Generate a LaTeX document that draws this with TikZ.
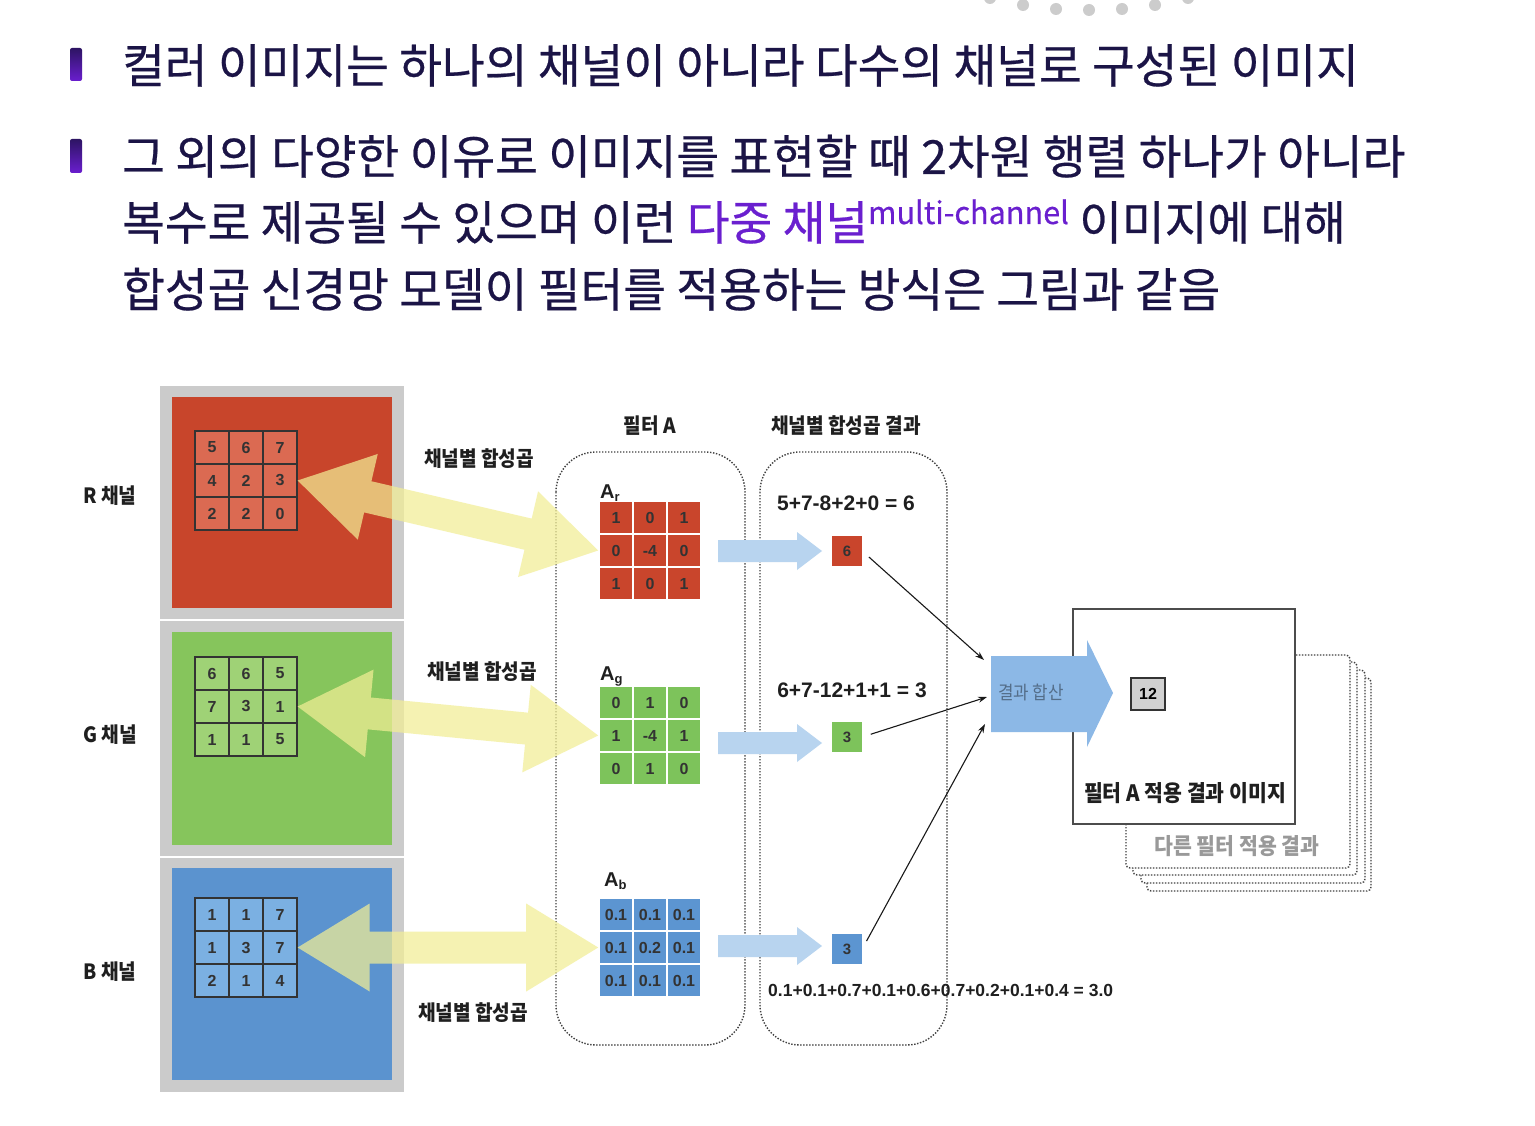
\documentclass[tikz,border=0pt]{standalone}
\usepackage{fontspec}
\setmainfont[FakeStretch=0.91]{Noto Sans CJK KR}
\newfontfamily\titlefont[FakeStretch=0.988, FakeBold=0.5]{Noto Sans CJK KR}
\newfontfamily\arial{Liberation Sans}
\usetikzlibrary{calc,arrows.meta}
\definecolor{navy}{HTML}{1B1446}
\definecolor{vio}{HTML}{6A1FCF}
\definecolor{panelgray}{HTML}{CBCBCB}
\definecolor{colrbg}{HTML}{C8452B}
\definecolor{colrcell}{HTML}{DB6A52}
\definecolor{colgbg}{HTML}{86C55C}
\definecolor{colgcell}{HTML}{9FD276}
\definecolor{colbbg}{HTML}{5B93CF}
\definecolor{colbcell}{HTML}{7BB0E2}
\definecolor{colfr}{HTML}{C9452C}
\definecolor{colfg}{HTML}{7DC35B}
\definecolor{colfb}{HTML}{5C95D1}
\definecolor{lblue}{HTML}{B8D4EF}
\definecolor{bigblue}{HTML}{8CB8E6}
\definecolor{yel}{HTML}{F2EE95}
\definecolor{bulltop}{HTML}{2D1463}
\definecolor{bullbot}{HTML}{6A1ECF}
\newcommand\cellgrid[5]{%
  \foreach \v [count=\i from 0] in {#5} {
    \pgfmathtruncatemacro\rr{\i/3}
    \pgfmathtruncatemacro\cc{mod(\i,3)}
    \node[#4] (#1\i) at ({#2+34*\cc+17},{#3+33*\rr+16.5}) {\v};
  }}
\newcommand\fatarrow[6]{%
  \coordinate (fa-hl) at ($(#1)!#3!(#2)$);
  \coordinate (fa-hr) at ($(#2)!#3!(#1)$);
  \fill[#6] (#1) -- ($(fa-hl)!#4!90:(#2)$) -- ($(fa-hl)!#5!90:(#2)$)
    -- ($(fa-hr)!#5!-90:(#1)$) -- ($(fa-hr)!#4!-90:(#1)$) -- (#2)
    -- ($(fa-hr)!#4!90:(#1)$) -- ($(fa-hr)!#5!90:(#1)$)
    -- ($(fa-hl)!#5!-90:(#2)$) -- ($(fa-hl)!#4!-90:(#2)$) -- cycle;}
\newcommand\rarrow[1]{%
  \fill[lblue] (#1) ++(0,-11) -- ++(79,0) -- ++(0,-8) -- ++(25,19) -- ++(-25,19) -- ++(0,-8) -- ++(-79,0) -- cycle;}
\begin{document}
\begin{tikzpicture}[x=1pt,y=-1pt,
  titletext/.style={anchor=base west, inner sep=0pt, text=navy, font=\titlefont\fontsize{47}{50}\selectfont},
  imgcell/.style={draw=black!80, line width=1.3pt, minimum width=34pt, minimum height=33pt, inner sep=0pt, font=\arial\bfseries\fontsize{16}{16}\selectfont, text=black!80},
  fcell/.style={draw=white, line width=1.6pt, minimum width=34pt, minimum height=33pt, inner sep=0pt, font=\arial\bfseries\fontsize{16}{16}\selectfont, text=black!80},
  klabel/.style={inner sep=0pt, text=black!88, font=\bfseries\fontsize{21}{21}\selectfont},
  eqlabel/.style={inner sep=0pt, text=black!88, font=\arial\bfseries\fontsize{21}{21}\selectfont},
  flabel/.style={anchor=base west, inner sep=0pt, text=black!88, font=\arial\bfseries\fontsize{20}{20}\selectfont},
  resbox/.style={minimum size=30pt, inner sep=0pt, font=\arial\bfseries\fontsize{15}{15}\selectfont, text=black!80},
  dotline/.style={draw=black!75, line width=1.4pt, dash pattern=on 1.4pt off 1.6pt},
  thinarr/.style={-{Stealth[length=9pt,width=6pt]}, line width=1.1pt, black!90, shorten <=9pt}]
\useasboundingbox (0,0) rectangle (1535,1126);
\fill[white] (0,0) rectangle (1535,1126);
% decorative dots
\begin{scope}
\clip (0,0) rectangle (1535,1126);
\foreach \px/\py in {990/-2,1023/5,1056/9,1089/10,1122/9,1155/5,1188/-2}
  \fill[black!20] (\px,\py) circle (6pt);
\end{scope}
% bullets
\shade[top color=bulltop, bottom color=bullbot, rounded corners=2pt] (70,48) rectangle (82,81);
\shade[top color=bulltop, bottom color=bullbot, rounded corners=2pt] (70,139) rectangle (82,173);
% title text
\node[titletext] (t1) at (122,83) {컬러 이미지는 하나의 채널이 아니라 다수의 채널로 구성된 이미지};
\node[titletext] (t2) at (122,174) {그 외의 다양한 이유로 이미지를 표현할 때 2차원 행렬 하나가 아니라};
\node[titletext] (t3) at (122,240) {복수로 제공될 수 있으며 이런 \textcolor{vio}{다중 채널\raisebox{16pt}{\fontsize{31}{31}\selectfont multi-channel}} 이미지에 대해};
\node[titletext] (t4) at (122,307) {합성곱 신경망 모델이 필터를 적용하는 방식은 그림과 같음};
% channel panel
\fill[panelgray] (160,386) rectangle (404,1092);
\fill[colrbg] (172,397) rectangle (392,608);
\fill[colgbg] (172,632) rectangle (392,845);
\fill[colbbg] (172,868) rectangle (392,1080);
\draw[white, line width=1.2pt] (160,620) -- (404,620);
\draw[white, line width=1.2pt] (160,857) -- (404,857);
\cellgrid{gr}{195}{431}{imgcell, fill=colrcell}{5,6,7,4,2,3,2,2,0}
\cellgrid{gg}{195}{657}{imgcell, fill=colgcell}{6,6,5,7,3,1,1,1,5}
\cellgrid{gb}{195}{898}{imgcell, fill=colbcell}{1,1,7,1,3,7,2,1,4}
\node[klabel] (lr) at (110,496) {R 채널};
\node[klabel] (lg) at (110,735) {G 채널};
\node[klabel] (lb) at (110,972) {B 채널};
% containers
\draw[dotline, rounded corners=40pt] (556,452) rectangle (745,1045);
\draw[dotline, rounded corners=40pt] (760,452) rectangle (947,1045);
\node[klabel] (hf) at (650,426) {필터 A};
\node[klabel] (hr) at (846,426) {채널별 합성곱 결과};
% filters
\cellgrid{fr}{599}{501}{fcell, fill=colfr}{1,0,1,0,-4,0,1,0,1}
\cellgrid{fg}{599}{686}{fcell, fill=colfg}{0,1,0,1,-4,1,0,1,0}
\cellgrid{fb}{599}{898}{fcell, fill=colfb}{0.1,0.1,0.1,0.1,0.2,0.1,0.1,0.1,0.1}
\node[flabel] (ar) at (600,498) {A\raisebox{-3pt}{\fontsize{13}{13}\selectfont r}};
\node[flabel] (ag) at (600,680) {A\raisebox{-3pt}{\fontsize{13}{13}\selectfont g}};
\node[flabel] (ab) at (604,886) {A\raisebox{-3pt}{\fontsize{13}{13}\selectfont b}};
% yellow double arrows
\fatarrow{gr5.east}{fr3.west}{72pt}{44pt}{16pt}{yel, opacity=0.72}
\fatarrow{gg5.east}{fg3.west}{72pt}{44pt}{16pt}{yel, opacity=0.72}
\fatarrow{gb5.east}{fb3.west}{72pt}{44pt}{16pt}{yel, opacity=0.72}
\node[klabel] (c1) at (479,459) {채널별 합성곱};
\node[klabel] (c2) at (482,672) {채널별 합성곱};
\node[klabel] (c3) at (473,1013) {채널별 합성곱};
% results
\node[resbox, fill=colfr] (res1) at (847,551) {6};
\node[resbox, fill=colfg] (res2) at (847,737) {3};
\node[resbox, fill=colfb] (res3) at (847,949) {3};
\rarrow{718,551}
\rarrow{718,743}
\rarrow{718,946}
\node[eqlabel] (e1) at (846,503) {5+7-8+2+0 = 6};
\node[eqlabel] (e2) at (852,690) {6+7-12+1+1 = 3};
\node[eqlabel, anchor=west, font=\arial\bfseries\fontsize{17.5}{18}\selectfont] (e3) at (768,990) {0.1+0.1+0.7+0.1+0.6+0.7+0.2+0.1+0.4 = 3.0};
% stacked result images
\foreach \dx/\dy in {21/23,15/15,7/7,0/0}
  \draw[dotline, fill=white, rounded corners=4pt] (1126+\dx,655+\dy) rectangle (1350+\dx,868+\dy);
\node[klabel, text=black!40, font=\bfseries\fontsize{22.5}{22.5}\selectfont] (other) at (1237,846) {다른 필터 적용 결과};
\draw[black!70, line width=1.5pt, fill=white] (1073,609) rectangle (1295,824);
\node[draw=black!80, line width=1.4pt, fill=black!18, minimum width=34pt, minimum height=32pt, inner sep=0pt, font=\arial\bfseries\fontsize{16}{16}\selectfont] (v12) at (1148,694) {12};
\node[klabel, font=\bfseries\fontsize{22.5}{22.5}\selectfont] (fres) at (1185,793) {필터 A 적용 결과 이미지};
% sum arrow
\fill[bigblue] (991,656) -- (1087,656) -- (1087,640) -- (1113,693) -- (1087,747) -- (1087,732) -- (991,732) -- cycle;
\node[inner sep=0pt, text=black!40!bigblue, font=\fontsize{18.5}{18.5}\selectfont] (sumlbl) at (1031,692) {결과 합산};
\coordinate (sin1) at (984,660);
\coordinate (sin2) at (987,697);
\coordinate (sin3) at (985,724);
\draw[thinarr] (res1.east) -- (sin1);
\draw[thinarr] (res2.east) -- (sin2);
\draw[thinarr] (res3.east) -- (sin3);
\end{tikzpicture}
\end{document}
